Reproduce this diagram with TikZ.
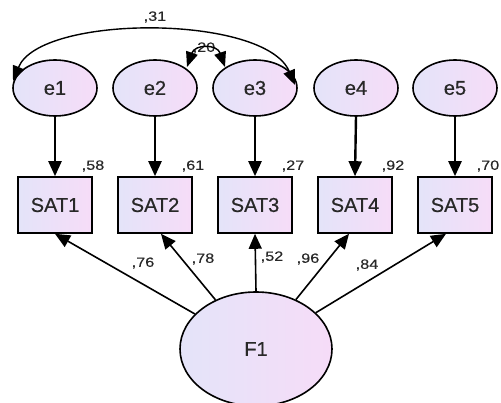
\documentclass[tikz,border=0pt]{standalone}
\usepackage{fontspec}
\setmainfont{Liberation Sans}
\newfontfamily\labelfont[FakeBold=0.6]{Liberation Sans}
\newfontfamily\numfont[FakeStretch=1.2,FakeBold=0.3]{Liberation Sans}
\usetikzlibrary{shapes.geometric,arrows.meta}

\definecolor{shadeA}{RGB}{228,228,249}
\definecolor{shadeB}{RGB}{246,220,248}
\definecolor{inkgray}{RGB}{40,40,40}

\tikzset{
  latent/.style={ellipse, draw=black, line width=1.6pt, left color=shadeA, right color=shadeB,
    inner sep=0pt, text=inkgray, font=\labelfont\fontsize{20}{23}\selectfont},
  errvar/.style={latent, minimum width=84pt, minimum height=56pt},
  factor/.style={latent, minimum width=152pt, minimum height=114pt},
  observed/.style={rectangle, draw=black, line width=1.6pt, left color=shadeA, right color=shadeB,
    minimum width=74pt, minimum height=56pt, inner sep=0pt, text=inkgray,
    font=\labelfont\fontsize{20}{23}\selectfont},
  coef/.style={inner sep=0pt, text=inkgray, font=\numfont\fontsize{13.5}{15}\selectfont},
  tip/.style={-{Triangle[length=15pt,width=13pt]}},
  errpath/.style={tip, line width=2.4pt},
  loadpath/.style={tip, line width=1.6pt},
  covpath/.style={{Triangle[length=15pt,width=12pt]}-{Triangle[length=15pt,width=12pt]}, line width=1.4pt},
}

\begin{document}
\begin{tikzpicture}[x=1pt,y=-1pt]
\useasboundingbox (0,0) rectangle (501,403);
\fill[white] (0,0) rectangle (501,403);

% error terms
\node[errvar] (e1) at (55,88)  {e1};
\node[errvar] (e2) at (155,88) {e2};
\node[errvar] (e3) at (255,88) {e3};
\node[errvar] (e4) at (356,88) {e4};
\node[errvar] (e5) at (455,88) {e5};

% observed items
\node[observed] (s1) at (55,205)  {SAT1};
\node[observed] (s2) at (155,205) {SAT2};
\node[observed] (s3) at (255,205) {SAT3};
\node[observed] (s4) at (355,205) {SAT4};
\node[observed] (s5) at (455,205) {SAT5};

% common factor
\node[factor] (F1) at (256,349) {F1};

% error paths
\foreach \i in {1,...,5} {
  \draw[errpath] (e\i.south) -- (s\i.north);
}

% squared multiple correlations
\node[coef] (r1) at (93,166)  {,58};
\node[coef] (r2) at (193,166) {,61};
\node[coef] (r3) at (293,166) {,27};
\node[coef] (r4) at (393,166) {,92};
\node[coef] (r5) at (488,166) {,70};

% factor loadings
\draw[loadpath] (F1) -- (s1.south);
\draw[loadpath] (F1) -- ([xshift=6pt]s2.south);
\draw[loadpath] (F1.north) -- (s3.south);
\draw[loadpath] (F1) -- ([xshift=-6pt]s4.south);
\draw[loadpath] (F1) -- ([xshift=-9pt]s5.south);

\node[coef] (l1) at (143,263) {,76};
\node[coef] (l2) at (203,259) {,78};
\node[coef] (l3) at (272,257) {,52};
\node[coef] (l4) at (308,259) {,96};
\node[coef] (l5) at (367,265) {,84};

% error covariances
\coordinate (c1a) at (13,81);
\coordinate (c1b) at (295,85);
\coordinate (c2a) at (187,67);
\coordinate (c2b) at (225,67);
\node[coef] (k1) at (155,17) {,31};
\node[coef] (k2) at (204,48) {,20};
\draw[covpath] (c1a) .. controls (40,14) and (265,14) .. (c1b);
\draw[covpath] (c2a) .. controls (195,44) and (217,44) .. (c2b);
\end{tikzpicture}
\end{document}
